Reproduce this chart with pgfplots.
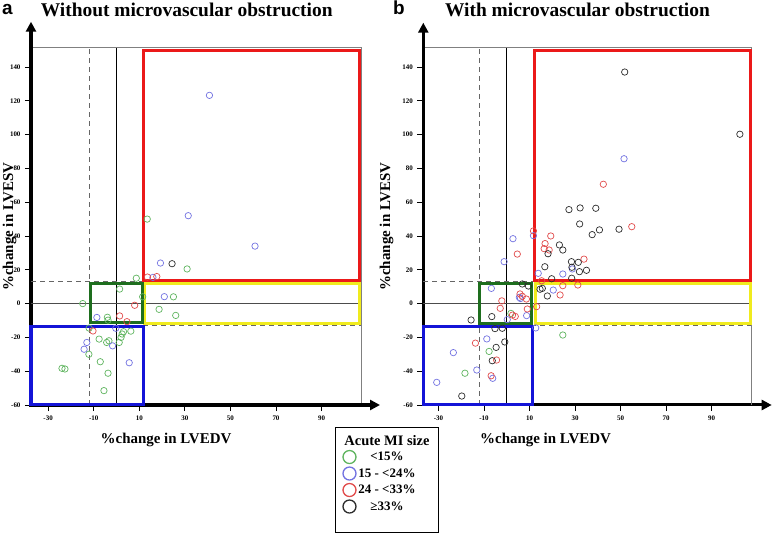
\documentclass[border=0pt]{standalone}
\usepackage{fontspec}
\setmainfont{Liberation Serif}
\newfontfamily\sansfont{Liberation Sans}
\usepackage{pgfplots}
\pgfplotsset{compat=1.18}
\usetikzlibrary{arrows.meta}

\definecolor{mgreen}{RGB}{95,180,95}
\definecolor{mblue}{RGB}{115,115,225}
\definecolor{mred}{RGB}{225,75,75}
\definecolor{mblack}{RGB}{45,45,45}
\definecolor{boxred}{RGB}{235,25,25}
\definecolor{boxyellow}{RGB}{240,235,30}
\definecolor{boxgreen}{RGB}{30,110,30}
\definecolor{boxblue}{RGB}{20,20,215}

\newcommand{\lgd}[1]{\makebox[72bp][l]{\makebox[57bp][c]{#1}}}

\tikzset{
  refdash/.style={gray!80!black, line width=1bp, dash pattern=on 5bp off 4bp},
  box/.style={line width=3bp, draw=#1},
  axarrow/.style={line width=3bp, -{Triangle[length=10bp, width=10bp]}},
}

\pgfplotsset{
  panel/.style={
    scale only axis, height=357.3bp,
    anchor=south west,
    axis x line*=bottom, axis y line*=left,
    axis line style={line width=3bp, line cap=rect},
    tick align=outside, major tick length=6bp,
    tick style={black, line width=0.7bp},
    ymin=-60, ymax=151.4,
    xtick={-30,-10,...,90}, ytick={-60,-40,...,140},
    ticklabel style={font=\fontsize{7}{8}\selectfont\bfseries},
    xticklabel style={yshift=-1bp},
    yticklabel style={xshift=-1bp},
    /pgf/number format/assume math mode=true,
    clip=false,
  },
  pts/.style={only marks, mark=o, mark size=3.2bp, line width=0.7bp, color=#1},
}

\begin{document}
\begin{tikzpicture}
\useasboundingbox (0,0) rectangle (775bp,533bp);

% panel a
\begin{axis}[panel, at={(31bp,128bp)}, width=330bp, xmin=-37.5, xmax=107.3,
  legend style={at={(0.9212,-0.0616)}, anchor=north west, draw=black, line width=1bp,
    inner xsep=7bp, inner ysep=7bp, row sep=3.5bp, column sep=2bp,
    font=\fontsize{13}{14}\selectfont\bfseries, nodes={inner sep=0.5bp}},
  legend cell align=left,
  legend image code/.code={\draw[#1, mark size=6.5bp, line width=1.3bp] plot coordinates {(7bp,0bp)};},
]
\addlegendimage{empty legend}
\draw[black, line width=0.8bp] (0,-60) -- (0,151.4);
\draw[black!70, line width=0.9bp] (-37.5,0) -- (107.3,0);
\draw[refdash] (-12,-60) -- (-12,151.4);
\draw[refdash] (-37.5,13) -- (12,13);
\draw[refdash] (-12,-13) -- (107.3,-13);
\draw[gray, line width=0.8bp] (-37.5,151.4) -- (107.3,151.4) -- (107.3,-60);

\addplot[pts=mgreen] coordinates {
(13.5,50) (31,20.5) (8.7,15) (25,4) (11.5,4) (18.7,-3.4) (26,-7) (1.4,8.6)
(-14.8,0) (-4,-8.1) (-3.7,-9.8) (-12,-14.5) (6.3,-16.3) (3.1,-16.6) (2.5,-18)
(2,-20) (1.2,-23) (-12.1,-30) (-7.6,-21) (-4.3,-23) (-3.3,-22) (-23.9,-38.3)
(-22.6,-38.7) (-7.1,-34.4) (-3.7,-41.2) (-5.5,-51.5)
};
\addplot[pts=mblue] coordinates {
(40.8,123.2) (31.5,52) (60.8,34) (19.3,24) (16,15.5) (21,4.1) (-8.6,-8.2)
(-0.3,-14.6) (-13,-23) (-14.2,-27) (-1.7,-25) (5.6,-35)
};
\addplot[pts=mred] coordinates {
(13.6,15.7) (17.7,16) (8,-1) (1.4,-7.3) (4.6,-10.7) (-10.3,-16.2)
};
\addplot[pts=mblack] coordinates {
(24.4,23.6)
};
\addlegendimage{empty legend}
\legend{\lgd{\fontsize{14.5}{15}\selectfont Acute MI size}, \lgd{<15\%}, \lgd{15 - <24\%}, \lgd{24 - <33\%}, \lgd{≥33\%}, \lgd{\rule{0pt}{6bp}}}

\draw[box=boxred] (11.8,13.4) rectangle (106.5,150);
\draw[box=boxyellow] (12.5,-11.8) rectangle (106.5,11.6);
\draw[box=boxgreen] (-11.3,-11.4) rectangle (11.5,11.6);
\draw[box=boxblue] (-37.5,-59.6) rectangle (11.8,-13.7);

\draw[axarrow] (107.3,-60) -- ([xshift=19bp]axis cs:107.3,-60);
\draw[axarrow] (-37.5,151.4) -- ([yshift=26bp]axis cs:-37.5,151.4);
\end{axis}

% panel b
\begin{axis}[panel, at={(423.3bp,128bp)}, width=328.4bp, xmin=-36.7, xmax=107.6]
\draw[black, line width=0.8bp] (0,-60) -- (0,151.4);
\draw[black!70, line width=0.9bp] (-36.7,0) -- (107.6,0);
\draw[refdash] (-12,-60) -- (-12,151.4);
\draw[refdash] (-36.7,13) -- (12,13);
\draw[refdash] (-36.7,-13) -- (107.6,-13);
\draw[gray, line width=0.8bp] (-36.7,151.4) -- (107.6,151.4) -- (107.6,-60);

\addplot[pts=mgreen] coordinates {
(1.8,-5.8) (24.6,-18.6) (-7.8,-28.3) (-18.4,-41.2)
};
\addplot[pts=mblue] coordinates {
(51.5,85.7) (11.7,40.2) (2.7,38.4) (-1.2,24.8) (28.8,20.5) (24.6,17.5) (13.8,17.9)
(20.4,8) (-6.8,9) (5.5,3.7) (6,3) (8.7,-7.1) (0.2,-9.5) (12.7,-14.4) (-8.8,-20.9)
(-23.5,-29) (-13.2,-39.3) (-6.2,-44.2) (-30.8,-46.6)
};
\addplot[pts=mred] coordinates {
(42.4,70.6) (54.9,45.5) (11.7,43) (19.3,40) (16.8,35.5) (16.4,32.5) (18.6,31.7)
(4.6,29.3) (33.9,26.3) (15.3,13.5) (24.6,10.6) (31.2,11) (23.4,5.1) (13.1,-1.8)
(5.8,5.7) (6.8,4.3) (8.6,2.7) (-2.2,1.6) (-2.9,-2.8) (9,-3.2) (2.5,-6.8) (3.7,-7.6)
(-13.8,-23.4) (-4.5,-33.4) (-6.9,-42.7)
};
\addplot[pts=mblack] coordinates {
(51.8,137) (102.4,100.2) (27.3,55.6) (32.2,56.6) (39.1,56.4) (32,47.1) (40.7,43.6)
(37.5,40.8) (49.3,44) (18.1,29.5) (23.1,34.7) (24.6,31.7) (28.4,24.8) (31.4,24.4)
(16.7,21.8) (28.6,21.5) (31.9,18.9) (35,19.7) (19.7,14.7) (28.5,15) (14.6,8.5)
(15.6,9) (17.8,4.5) (6.8,11.6) (9.5,10.4) (-6.6,-7.7) (-15.7,-9.7) (-5.2,-14.8)
(-2,-14.6) (-0.9,-22.7) (-4.7,-25.9) (-6.4,-33.8) (-19.8,-54.7)
};

\draw[box=boxred] (12,13.5) rectangle (106.9,150);
\draw[box=boxyellow] (12.4,-11.8) rectangle (106.9,11.6);
\draw[box=boxgreen] (-11.8,-11.8) rectangle (10.9,11.6);
\draw[box=boxblue] (-36.7,-59.6) rectangle (11.4,-13.7);

\draw[axarrow] (107.6,-60) -- ([xshift=20bp]axis cs:107.6,-60);
\draw[axarrow] (-36.7,151.4) -- ([yshift=25bp]axis cs:-36.7,151.4);
\end{axis}

% titles and labels
\node[anchor=base west, inner sep=0pt, font=\sansfont\fontsize{19}{20}\selectfont\bfseries] at (2bp,518bp) {a};
\node[anchor=base west, inner sep=0pt, font=\sansfont\fontsize{19}{20}\selectfont\bfseries] at (393bp,518bp) {b};
\node[anchor=base, inner sep=0pt, font=\fontsize{19.5}{21}\selectfont\bfseries] at (186.7bp,516.3bp) {Without microvascular obstruction};
\node[anchor=base, inner sep=0pt, font=\fontsize{19.5}{21}\selectfont\bfseries] at (577.5bp,516.3bp) {With microvascular obstruction};
\node[anchor=base, inner sep=0pt, font=\fontsize{15}{16}\selectfont\bfseries] at (166bp,89bp) {\%change in LVEDV};
\node[anchor=base, inner sep=0pt, font=\fontsize{15}{16}\selectfont\bfseries] at (545.5bp,89bp) {\%change in LVEDV};
\node[anchor=base, rotate=90, inner sep=0pt, font=\fontsize{15}{16}\selectfont\bfseries] at (13bp,306.5bp) {\%change in LVESV};
\node[anchor=base, rotate=90, inner sep=0pt, font=\fontsize{15}{16}\selectfont\bfseries] at (390bp,306.5bp) {\%change in LVESV};
\end{tikzpicture}
\end{document}
